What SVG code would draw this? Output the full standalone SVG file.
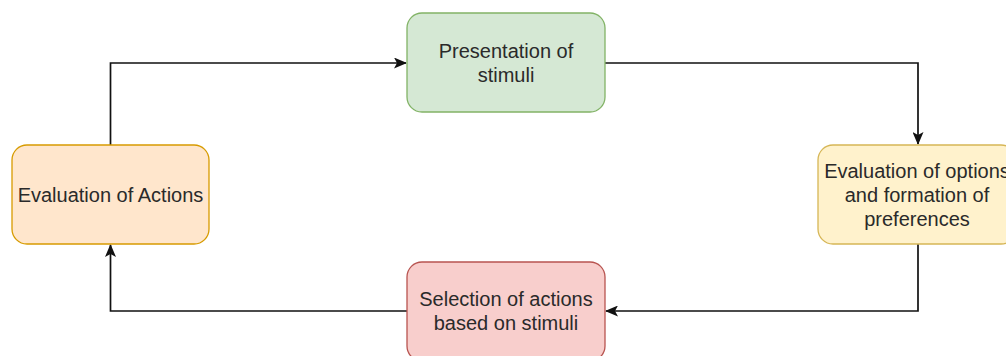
<svg xmlns="http://www.w3.org/2000/svg" width="1006" height="356" viewBox="0 0 1006 356">
  <style>
    .box { stroke-width: 1.3; }
    .lbl { font-family: "Liberation Sans", Arial, sans-serif; font-size: 20px; fill: #2a2a2a; text-anchor: middle; }
    .conn { fill: none; stroke: #111; stroke-width: 1.7; }
  </style>
  <defs>
    <marker id="arr" viewBox="0 0 13 11" refX="12" refY="5.5" markerWidth="13" markerHeight="11" markerUnits="userSpaceOnUse" orient="auto">
      <path d="M0,0 L13,5.5 L0,11 L3,5.5 z" fill="#111"/>
    </marker>
  </defs>
  <rect width="1006" height="356" fill="#ffffff"/>

  <g id="connectors">
    <path class="conn" d="M110.5,145 V63 H406" marker-end="url(#arr)"/>
    <path class="conn" d="M605,63 H918 V144" marker-end="url(#arr)"/>
    <path class="conn" d="M918,244 V311 H606" marker-end="url(#arr)"/>
    <path class="conn" d="M407,311 H110.5 V245" marker-end="url(#arr)"/>
  </g>

  <g id="presentation">
    <rect class="box" x="407" y="13" width="198" height="99" rx="15" fill="#d5e8d4" stroke="#82b366"/>
    <text class="lbl" x="506" y="57.5">Presentation of</text>
    <text class="lbl" x="506" y="81.5">stimuli</text>
  </g>

  <g id="eval-actions">
    <rect class="box" x="12" y="145" width="197" height="99" rx="15" fill="#ffe6cc" stroke="#d79b00"/>
    <text class="lbl" x="110.5" y="201.5">Evaluation of Actions</text>
  </g>

  <g id="eval-options">
    <rect class="box" x="818" y="145" width="198" height="99" rx="15" fill="#fff2cc" stroke="#d6b656"/>
    <text class="lbl" x="917" y="177.5">Evaluation of options</text>
    <text class="lbl" x="917" y="201.5">and formation of</text>
    <text class="lbl" x="917" y="225.5">preferences</text>
  </g>

  <g id="selection">
    <rect class="box" x="407" y="262" width="198" height="99" rx="15" fill="#f8cecc" stroke="#b85450"/>
    <text class="lbl" x="506" y="305.5">Selection of actions</text>
    <text class="lbl" x="506" y="329.5">based on stimuli</text>
  </g>
</svg>
